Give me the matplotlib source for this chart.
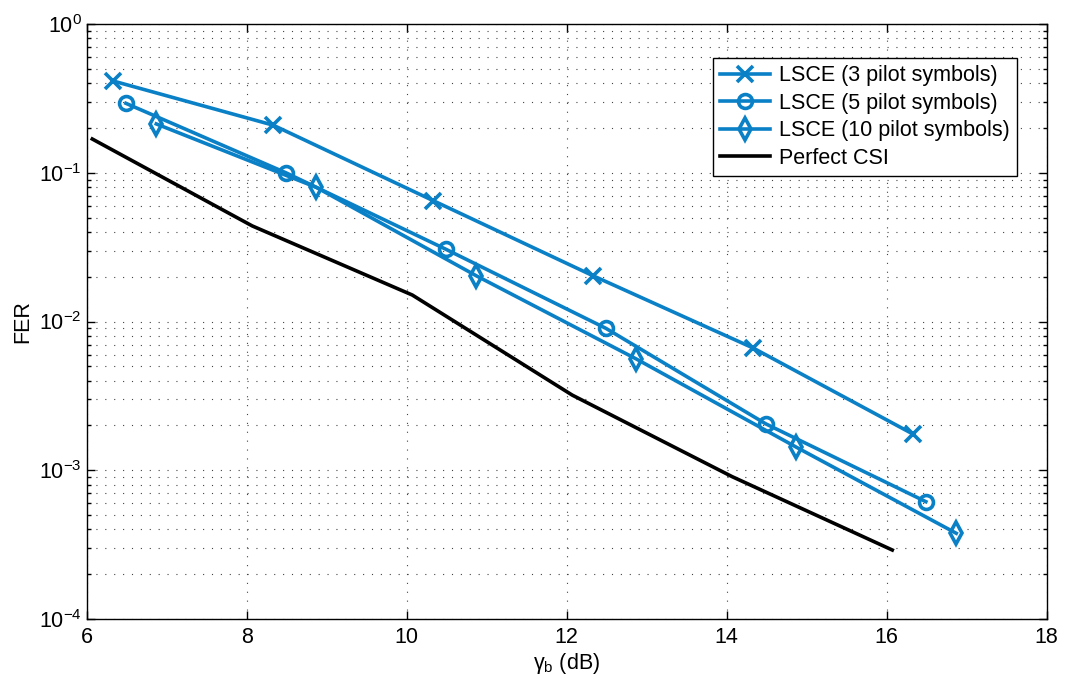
import matplotlib
matplotlib.use('Agg')
import matplotlib.pyplot as plt
import numpy as np

plt.rcParams['font.family'] = ['Liberation Sans', 'DejaVu Sans']
plt.rcParams['mathtext.fontset'] = 'custom'
plt.rcParams['mathtext.rm'] = 'Liberation Sans'
plt.rcParams['mathtext.it'] = 'Liberation Sans:italic'

# FER vs gamma_b for each estimator
snr_3p = [6.33, 8.33, 10.33, 12.33, 14.33, 16.33]
fer_3p = [0.414, 0.209, 0.065, 0.0203, 0.00664, 0.00175]

snr_5p = [6.49, 8.49, 10.49, 12.49, 14.49, 16.49]
fer_5p = [0.293, 0.100, 0.0306, 0.0090, 0.00205, 0.000615]

snr_10p = [6.87, 8.87, 10.87, 12.87, 14.87, 16.87]
fer_10p = [0.213, 0.0798, 0.0203, 0.0056, 0.00143, 0.000377]

snr_csi = [6.07, 8.07, 10.07, 12.07, 14.07, 16.07]
fer_csi = [0.1686, 0.0439, 0.01507, 0.0032, 0.000905, 0.000291]

blue = '#0a80c6'
lw = 2.6
fs = 15.5

fig = plt.figure(figsize=(10.69, 6.84), dpi=100)
ax = fig.add_axes([0.0811, 0.095, 0.8980, 0.8699])

ax.semilogy(snr_3p, fer_3p, color=blue, lw=lw, marker='x', ms=11, mew=lw,
            label='LSCE (3 pilot symbols)')
ax.semilogy(snr_5p, fer_5p, color=blue, lw=lw, marker='o', ms=10, mew=lw,
            mfc='none', label='LSCE (5 pilot symbols)')
ax.semilogy(snr_10p, fer_10p, color=blue, lw=lw, marker='d', ms=11, mew=lw,
            mfc='none', label='LSCE (10 pilot symbols)')
ax.semilogy(snr_csi, fer_csi, color='black', lw=lw, label='Perfect CSI')

ax.set_xlim(6, 18)
ax.set_ylim(1e-4, 1)
ax.set_xticks(np.arange(6, 19, 2))

dots = (0, (1, 7))
ax.grid(True, which='major', axis='both', color='#444444', lw=0.8,
        linestyle=dots)
ax.grid(True, which='minor', axis='y', color='#444444', lw=0.8,
        linestyle=dots)

ax.tick_params(which='both', direction='in', top=True, right=True,
               labelsize=fs, width=1)
ax.tick_params(which='major', length=6)
ax.tick_params(which='minor', length=3)
ax.tick_params(axis='x', pad=6)
for s in ax.spines.values():
    s.set_linewidth(1)

ax.set_xlabel('γ$_\\mathregular{b}$ (dB)', fontsize=fs, labelpad=2)
ax.set_ylabel('FER', fontsize=fs, labelpad=4)

leg = ax.legend(loc='upper right', bbox_to_anchor=(0.969, 0.943),
                borderaxespad=0, fontsize=fs, fancybox=False,
                framealpha=1, edgecolor='black', handlelength=2.3,
                labelspacing=0.3, borderpad=0.35, handletextpad=0.4)
leg.get_frame().set_linewidth(1)

fig.savefig('out.png', dpi=100)
